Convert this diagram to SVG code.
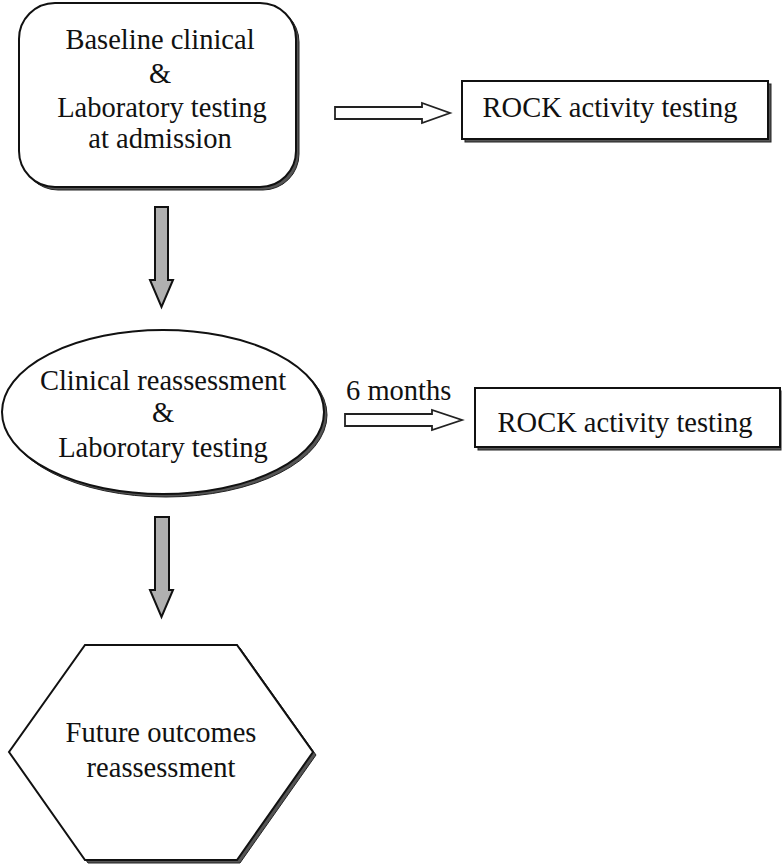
<svg xmlns="http://www.w3.org/2000/svg" width="783" height="864" viewBox="0 0 783 864">
<style>
.shape{fill:#fff;stroke:#111;stroke-width:2}
.shadow{fill:#555;stroke:#222;stroke-width:1}
.t{font-family:"Liberation Serif","Times New Roman",serif;font-size:28.5px;fill:#111;text-anchor:middle}
.ha{fill:#fff;stroke:#222;stroke-width:1.8;stroke-linejoin:miter}
.va{fill:#b0b0b0;stroke:#111;stroke-width:2;stroke-linejoin:miter}
</style>
<rect width="783" height="864" fill="#fff"/>
<g id="baseline">
<rect class="shadow" x="22" y="6" width="277" height="184" rx="36"/>
<rect class="shape" x="19" y="3" width="277" height="184" rx="36"/>
<text class="t" x="160" y="49">Baseline clinical</text>
<text class="t" x="160" y="83">&amp;</text>
<text class="t" x="162" y="117">Laboratory testing</text>
<text class="t" x="160" y="148">at admission</text>
</g>
<g id="rock1">
<rect class="shadow" x="465" y="84" width="306" height="58"/>
<rect class="shape" x="462" y="81" width="306" height="58"/>
<text class="t" x="610" y="117">ROCK activity testing</text>
</g>
<g id="reassess">
<ellipse class="shadow" cx="166" cy="415" rx="161" ry="82"/>
<ellipse class="shape" cx="163" cy="412" rx="161" ry="82"/>
<text class="t" x="163" y="390">Clinical reassessment</text>
<text class="t" x="163" y="422">&amp;</text>
<text class="t" x="163" y="457">Laborotary testing</text>
</g>
<g id="rock2">
<rect class="shadow" x="478" y="391" width="303" height="59"/>
<rect class="shape" x="475" y="388" width="305" height="59"/>
<text class="t" x="625" y="432">ROCK activity testing</text>
</g>
<g id="future">
<polygon class="shadow" points="88,648 240,648 316,755 240,863 88,863 12,755"/>
<polygon class="shape" points="85,645 237,645 313,752 237,860 85,860 9,752"/>
<text class="t" x="161" y="742">Future outcomes</text>
<text class="t" x="161" y="777">reassessment</text>
</g>
<g id="connectors">
<polygon class="ha" points="335,107 422,107 422,103 450,113 422,123 422,119 335,119"/>
<polygon class="va" points="155,207 168,207 168,280 173,280 161.5,307 150,280 155,280"/>
<text class="t" x="346" y="400" style="text-anchor:start">6 months</text>
<polygon class="ha" points="345,414 432,414 432,410 462,420 432,430 432,426 345,426"/>
<polygon class="va" points="155,517 169,517 169,590 173,590 161.5,617 150,590 155,590"/>
</g>
</svg>
